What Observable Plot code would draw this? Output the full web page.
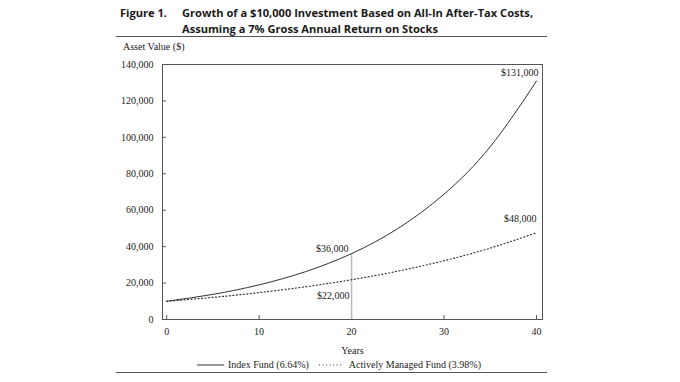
<!DOCTYPE html>
<html><head><meta charset="utf-8">
<script src="https://cdn.jsdelivr.net/npm/d3@7"></script>
<script src="https://cdn.jsdelivr.net/npm/@observablehq/plot@0.6"></script>
<style>
body{margin:0;background:#fff;width:680px;height:382px;overflow:hidden;position:relative;font-family:"Liberation Serif",serif;color:#222}
.t{position:absolute;font-family:"Open Sans",sans-serif;font-weight:700;font-size:11.1px;line-height:16px;color:#1a1a1a;white-space:nowrap}
.rule{position:absolute;left:116px;width:431px;height:0;border-top:1px solid #555}
#ylab{position:absolute;left:123px;top:41px;font-size:10px}
#chart{position:absolute;left:0;top:38px}
#legend{position:absolute;left:197px;top:359px;font-size:10px;display:flex;align-items:center;white-space:nowrap}
#legend svg{display:block}
</style></head>
<body>
<div class="t" style="left:120px;top:5px">Figure 1.</div>
<div class="t" style="left:182px;top:5px">Growth of a $10,000 Investment Based on All-In After-Tax Costs,<br>Assuming a 7% Gross Annual Return on Stocks</div>
<div class="rule" style="top:36px"></div>
<div id="ylab">Asset Value ($)</div>
<div id="chart"></div>
<div id="legend">
  <svg width="27" height="6"><line x1="0" y1="3" x2="27" y2="3" stroke="#333" stroke-width="1"/></svg>
  <span style="margin-left:4px">Index Fund (6.64%)</span>
  <svg width="23" height="6" style="margin-left:10px"><line x1="0" y1="3" x2="23" y2="3" stroke="#333" stroke-width="1.2" stroke-dasharray="1,2.5"/></svg>
  <span style="margin-left:7px">Actively Managed Fund (3.98%)</span>
</div>
<div class="rule" style="top:372px"></div>
<script>
const years = [0, 5, 10, 15, 20, 25, 30, 35, 40];
const indexFund = [10000, 13790, 19020, 26230, 36180, 49900, 68810, 94900, 130900];
const activeFund = [10000, 12150, 14770, 17960, 21830, 26530, 32250, 39200, 47640];
const xTicks = [0, 10, 20, 30, 40];
const yTicks = [0, 20000, 40000, 60000, 80000, 100000, 120000, 140000];
const markYear = 20;
const endYear = 40;

const idx = years.map((y, i) => ({year: y, value: indexFund[i]}));
const act = years.map((y, i) => ({year: y, value: activeFund[i]}));
const fmt = v => "$" + d3.format(",")(Math.round(v / 1000) * 1000);
const at = (arr, yr) => arr.find(d => d.year === yr);

const plot = Plot.plot({
  width: 680,
  height: 318,
  marginLeft: 162,
  marginRight: 138,
  marginTop: 26,
  marginBottom: 37,
  style: {fontFamily: "'Liberation Serif', serif", fontSize: "10px", color: "#222", background: "transparent"},
  x: {domain: [-0.45, 40.65], label: null},
  y: {domain: [0, 140000], label: null},
  marks: [
    Plot.frame({stroke: "#555", strokeWidth: 1}),
    Plot.axisY(yTicks, {tickSize: -4, tickPadding: 13, stroke: "#555", tickFormat: d3.format(","), label: null}),
    Plot.axisX(xTicks, {tickSize: -4, tickPadding: 12, stroke: "#555", tickFormat: d => d, label: "Years", labelAnchor: "center", labelOffset: 34, labelArrow: "none"}),
    Plot.ruleX([at(idx, markYear)], {x: "year", y1: 0, y2: "value", stroke: "#bbb", strokeWidth: 1.5}),
    Plot.line(idx, {x: "year", y: "value", stroke: "#333", strokeWidth: 1, curve: "natural"}),
    Plot.line(act, {x: "year", y: "value", stroke: "#333", strokeWidth: 1.2, strokeDasharray: "1,2.5", curve: "natural"}),
    Plot.text([at(idx, endYear)], {x: "year", y: "value", text: d => fmt(d.value), textAnchor: "end", dx: 2, dy: -8, fill: "#222"}),
    Plot.text([at(act, endYear)], {x: "year", y: "value", text: d => fmt(d.value), textAnchor: "end", dx: 0, dy: -14, fill: "#222"}),
    Plot.text([at(idx, markYear)], {x: "year", y: "value", text: d => fmt(d.value), textAnchor: "end", dx: -3, dy: -5, fill: "#222"}),
    Plot.text([at(act, markYear)], {x: "year", y: "value", text: d => fmt(d.value), textAnchor: "end", dx: -2, dy: 16, fill: "#222"})
  ]
});
document.getElementById("chart").appendChild(plot);
</script>
</body></html>
